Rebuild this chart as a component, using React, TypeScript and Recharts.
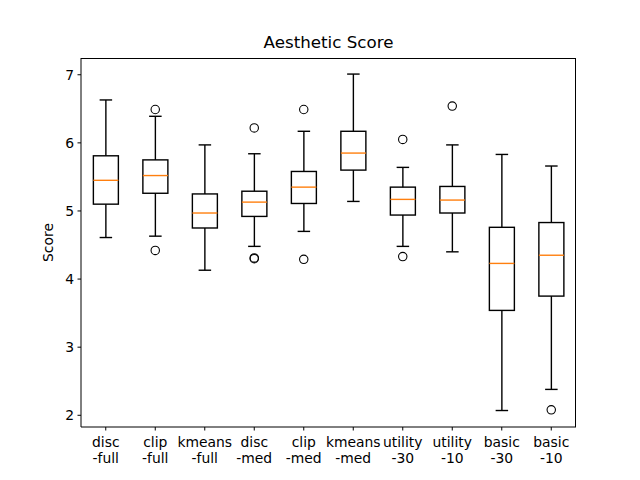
import React from 'react';
import { ComposedChart, Bar, Line, XAxis, YAxis } from 'recharts';

const categories = ['disc\n-full', 'clip\n-full', 'kmeans\n-full', 'disc\n-med', 'clip\n-med', 'kmeans\n-med', 'utility\n-30', 'utility\n-10', 'basic\n-30', 'basic\n-10'];
const whiskerLow = [4.61, 4.63, 4.13, 4.48, 4.70, 5.14, 4.48, 4.40, 2.07, 2.38];
const q1 = [5.10, 5.26, 4.75, 4.92, 5.11, 5.60, 4.94, 4.97, 3.54, 3.75];
const median = [5.45, 5.52, 4.97, 5.13, 5.35, 5.85, 5.17, 5.16, 4.23, 4.35];
const q3 = [5.81, 5.75, 5.25, 5.29, 5.58, 6.17, 5.35, 5.36, 4.76, 4.83];
const whiskerHigh = [6.63, 6.39, 5.97, 5.84, 6.17, 7.01, 5.64, 5.97, 5.83, 5.66];
const outliers: number[][] = [[], [6.49, 4.42], [], [6.22, 4.31, 4.30], [6.49, 4.29], [], [6.05, 4.33], [6.54], [], [2.08]];
const yTicks = [2, 3, 4, 5, 6, 7];

const data = categories.map((name, i) => ({
  name,
  low: whiskerLow[i],
  q1: q1[i],
  med: median[i],
  q3: q3[i],
  high: whiskerHigh[i],
  out0: outliers[i][0] ?? null,
  out1: outliers[i][1] ?? null,
  out2: outliers[i][2] ?? null,
}));

const FONT = 'DejaVu Sans, sans-serif';

const BoxShape = (props: any) => {
  const { x, y, width, height, payload } = props;
  if (!payload) return null;
  const { low, q1: a, med, q3: b, high } = payload;
  const ppu = height / (high - low);
  const yOf = (v: number) => y + (high - v) * ppu;
  const cx = x + width / 2;
  const capHalf = width / 4;
  const sw = 1.4;
  return (
    <g>
      <line x1={cx} x2={cx} y1={yOf(high)} y2={yOf(b)} stroke="#000" strokeWidth={sw} />
      <line x1={cx} x2={cx} y1={yOf(a)} y2={yOf(low)} stroke="#000" strokeWidth={sw} />
      <line x1={cx - capHalf} x2={cx + capHalf} y1={yOf(high)} y2={yOf(high)} stroke="#000" strokeWidth={sw} />
      <line x1={cx - capHalf} x2={cx + capHalf} y1={yOf(low)} y2={yOf(low)} stroke="#000" strokeWidth={sw} />
      <rect x={x} y={yOf(b)} width={width} height={yOf(a) - yOf(b)} fill="none" stroke="#000" strokeWidth={sw} />
      <line x1={x} x2={x + width} y1={yOf(med)} y2={yOf(med)} stroke="#ff7f0e" strokeWidth={sw} />
    </g>
  );
};

const XTick = (props: any) => {
  const { x, y, payload } = props;
  const lines = String(payload.value).split('\n');
  return (
    <text x={x} y={y} textAnchor="middle" fill="#000" fontSize={13.9} fontFamily={FONT}>
      {lines.map((l, i) => (
        <tspan key={i} x={x} y={y + 14.5 + i * 16}>{l}</tspan>
      ))}
    </text>
  );
};

const outlierDot = { r: 4.2, fill: 'none', stroke: '#000', strokeWidth: 1.1 };

export default function App() {
  return (
    <div style={{ position: 'absolute', left: 0, top: 0, width: 640, height: 480, background: '#fff' }}>
      <div style={{ position: 'absolute', left: 81, width: 495, top: 32, textAlign: 'center', fontFamily: FONT, fontSize: 16.7, color: '#000', lineHeight: '20px' }}>
        Aesthetic Score
      </div>
      <ComposedChart
        width={640}
        height={480}
        data={data}
        margin={{ top: 58, right: 64, left: 0, bottom: 0 }}
        barCategoryGap="25%"
      >
        <XAxis
          dataKey="name"
          height={53}
          interval={0}
          tickSize={3.5}
          tickMargin={2}
          tickLine={{ stroke: '#000' }}
          axisLine={{ stroke: '#000' }}
          tick={<XTick />}
        />
        <YAxis
          width={81}
          type="number"
          domain={[1.828, 7.246]}
          ticks={yTicks}
          allowDataOverflow
          tickSize={3.5}
          tickMargin={3.5}
          tickLine={{ stroke: '#000' }}
          axisLine={{ stroke: '#000' }}
          tick={{ fill: '#000', fontSize: 13.9, fontFamily: FONT }}
          label={({ viewBox }: any) => (
            <text
              x={viewBox.x + 48}
              y={viewBox.y + viewBox.height / 2}
              transform={`rotate(-90 ${viewBox.x + 48} ${viewBox.y + viewBox.height / 2})`}
              textAnchor="middle"
              dominantBaseline="central"
              style={{ fill: '#000' }}
              fontSize={13.9}
              fontFamily={FONT}
            >
              Score
            </text>
          )}
        />
        <Bar
          dataKey={(d: any) => [d.low, d.high]}
          shape={<BoxShape />}
          isAnimationActive={false}
          legendType="none"
        />
        <Line dataKey="out0" stroke="none" dot={outlierDot} activeDot={false} isAnimationActive={false} connectNulls={false} legendType="none" />
        <Line dataKey="out1" stroke="none" dot={outlierDot} activeDot={false} isAnimationActive={false} connectNulls={false} legendType="none" />
        <Line dataKey="out2" stroke="none" dot={outlierDot} activeDot={false} isAnimationActive={false} connectNulls={false} legendType="none" />
      </ComposedChart>
      <div style={{ position: 'absolute', left: 80.5, top: 57.5, width: 495, height: 369, borderTop: '1px solid #000', borderRight: '1px solid #000', boxSizing: 'border-box', pointerEvents: 'none' }} />
    </div>
  );
}
